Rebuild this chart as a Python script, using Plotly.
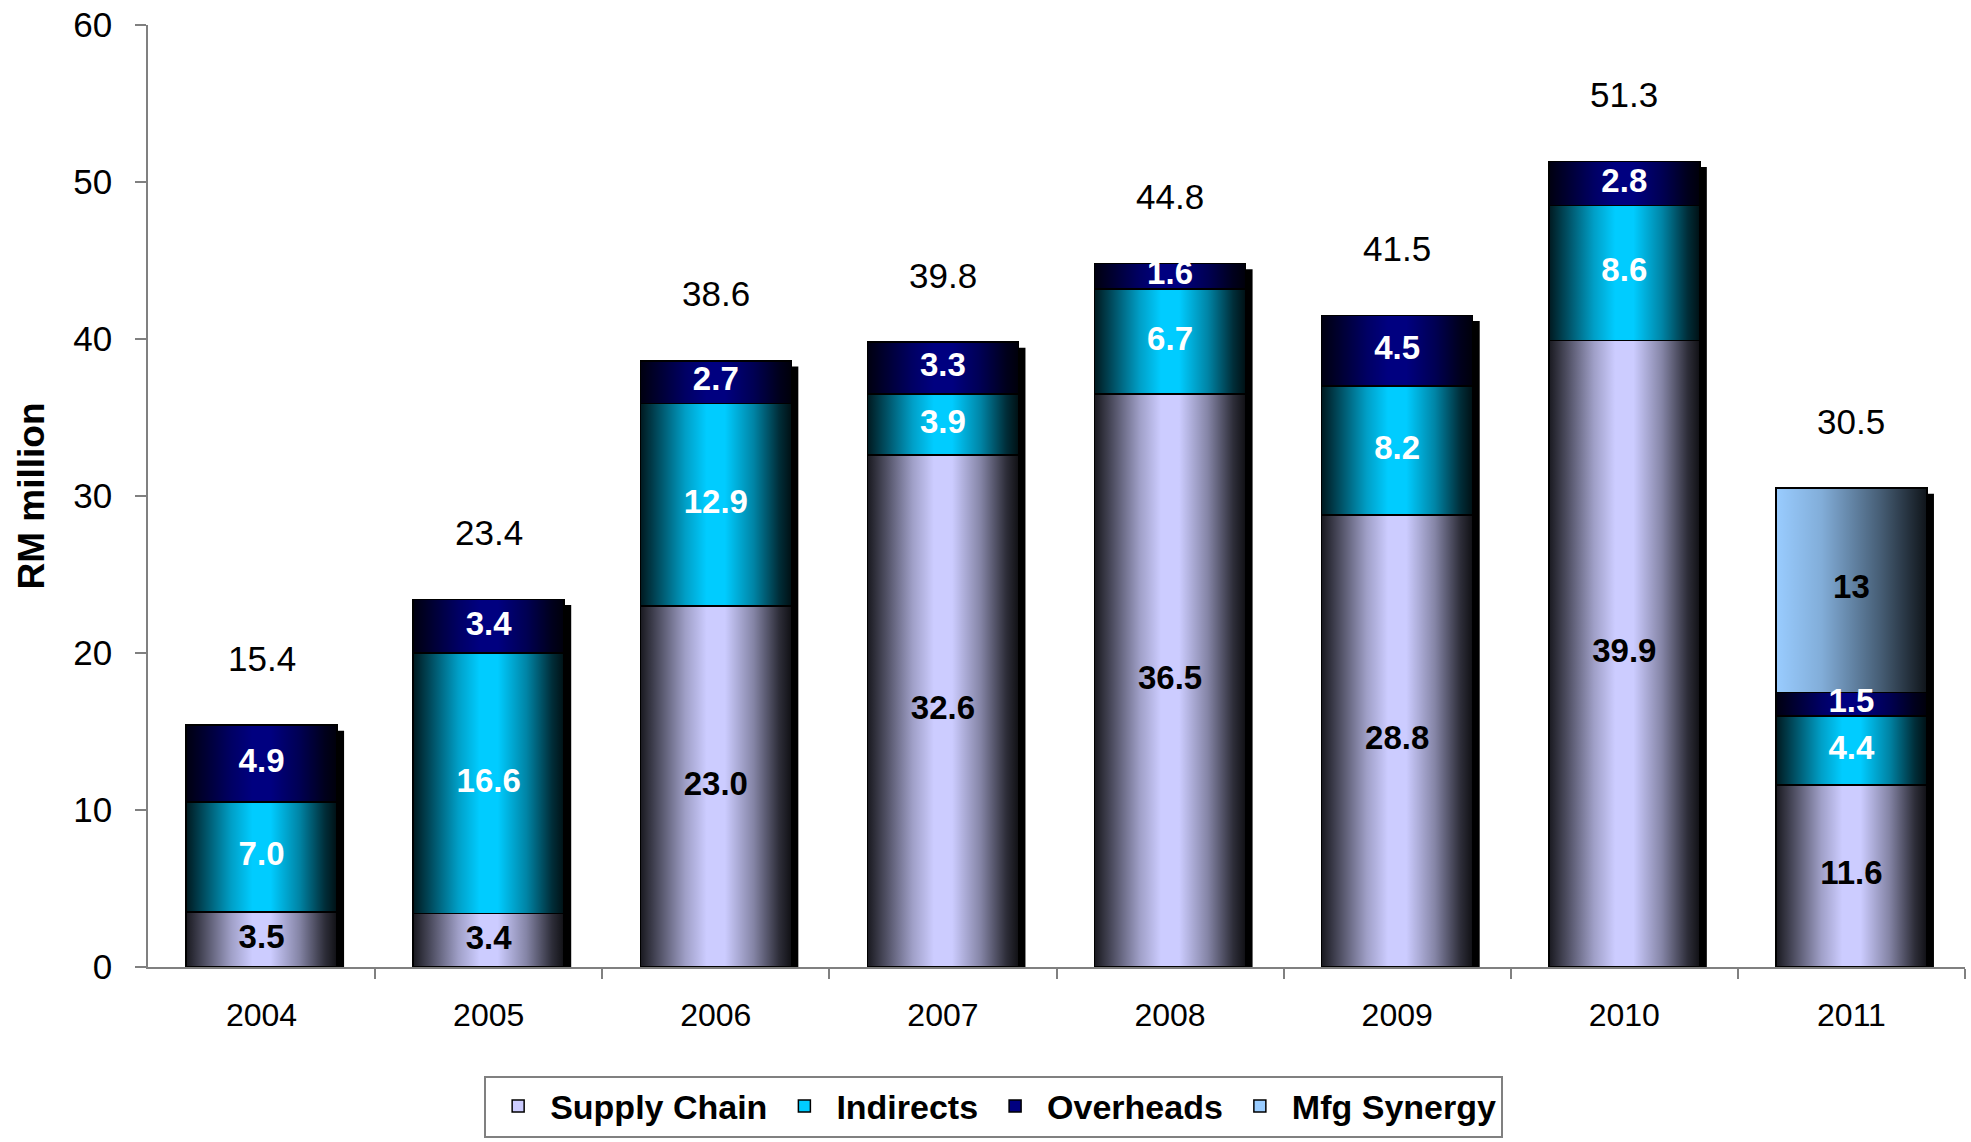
import plotly.graph_objects as go

# ---- data -------------------------------------------------------------
years = ["2004", "2005", "2006", "2007", "2008", "2009", "2010", "2011"]
supply_chain = [3.5, 3.4, 23.0, 32.6, 36.5, 28.8, 39.9, 11.6]
indirects = [7.0, 16.6, 12.9, 3.9, 6.7, 8.2, 8.6, 4.4]
overheads = [4.9, 3.4, 2.7, 3.3, 1.6, 4.5, 2.8, 1.5]
mfg_synergy = [None, None, None, None, None, None, None, 13]

series = [
    ("Supply Chain", supply_chain, "#CCCCFF", "black", "{:.1f}"),
    ("Indirects", indirects, "#00CCFF", "white", "{:.1f}"),
    ("Overheads", overheads, "#000080", "white", "{:.1f}"),
    ("Mfg Synergy", mfg_synergy, "#99CCFF", "black", "{:g}"),
]

FONT = "Liberation Sans, Arial, sans-serif"
BAR_W = 0.665
x = list(range(len(years)))
totals = [round(sum(v[i] or 0 for _, v, *_ in series), 1) for i in x]

# shading across each column: dark edges, bright middle
edge_shade = [
    [0.0, "rgba(0,0,0,0.88)"], [0.12, "rgba(0,0,0,0.62)"],
    [0.30, "rgba(0,0,0,0.22)"], [0.44, "rgba(0,0,0,0.0)"],
    [0.56, "rgba(0,0,0,0.0)"], [0.75, "rgba(0,0,0,0.35)"],
    [0.92, "rgba(0,0,0,0.78)"], [1.0, "rgba(0,0,0,0.92)"],
]
ramp_shade = [
    [0.0, "rgba(0,0,0,0.0)"], [0.3, "rgba(0,0,0,0.15)"],
    [0.7, "rgba(0,0,0,0.55)"], [1.0, "rgba(0,0,0,0.9)"],
]

fig = go.Figure()

# stacked columns
for name, vals, color, _, _ in series:
    fig.add_trace(go.Bar(
        x=x, y=[v if v is not None else 0 for v in vals], name=name,
        width=BAR_W,
        marker=dict(color=color, line=dict(color="black", width=1.5)),
        hoverinfo="skip",
    ))

# gradient shading over every segment
label_pts = []
for i in x:
    base = 0.0
    for name, vals, color, tcolor, fmt in series:
        v = vals[i]
        if not v:
            continue
        top = base + v
        xl, xr = i - BAR_W / 2, i + BAR_W / 2
        fig.add_trace(go.Scatter(
            x=[xl, xr, xr, xl, xl], y=[base, base, top, top, base],
            mode="lines", fill="toself", line=dict(width=0),
            fillgradient=dict(
                type="horizontal",
                colorscale=ramp_shade if name == "Mfg Synergy" else edge_shade,
            ),
            showlegend=False, hoverinfo="skip",
        ))
        label_pts.append((i, (base + top) / 2, fmt.format(v), tcolor))
        base = top

# drop shadow on the right of each column
for i, t in zip(x, totals):
    fig.add_shape(
        type="rect", layer="below",
        xref="x", yref="y", xsizemode="pixel", xanchor=i + BAR_W / 2,
        x0=-4, x1=7, y0=0, y1=t - 0.35,
        fillcolor="black", line=dict(width=0),
    )

# segment value labels
for tcolor in ("black", "white"):
    pts = [p for p in label_pts if p[3] == tcolor]
    fig.add_trace(go.Scatter(
        x=[p[0] for p in pts], y=[p[1] for p in pts], text=[p[2] for p in pts],
        mode="text", textposition="middle center",
        textfont=dict(family=FONT, size=33, color=tcolor, weight="bold"),
        showlegend=False, hoverinfo="skip",
    ))

# totals above each column
for i, t in zip(x, totals):
    fig.add_annotation(
        x=i, y=t, text=f"{t:.1f}", showarrow=False, yshift=67,
        font=dict(family=FONT, size=35, color="black"),
    )

fig.update_layout(
    width=1971, height=1142,
    margin=dict(l=148, r=6, t=25, b=174),
    barmode="stack",
    plot_bgcolor="white", paper_bgcolor="white",
    font=dict(family=FONT, color="black"),
    showlegend=True,
    legend=dict(
        orientation="h", traceorder="normal",
        x=0.185, xanchor="left", y=-0.114, yanchor="top",
        itemwidth=54,
        bordercolor="#808080", borderwidth=2, bgcolor="white",
        font=dict(family=FONT, size=34, color="black", weight="bold"),
        itemclick=False, itemdoubleclick=False,
    ),
    xaxis=dict(
        range=[-0.5, len(years) - 0.5],
        tickvals=x, ticktext=years, ticks="",
        tickfont=dict(family=FONT, size=32, color="black"),
        ticklabelstandoff=19,
        showline=True, linecolor="#808080", linewidth=1.5,
        showgrid=False, zeroline=False,
        minor=dict(tickvals=[i + 0.5 for i in x], ticks="outside",
                   ticklen=10, tickwidth=1.5, tickcolor="#808080"),
    ),
    yaxis=dict(
        range=[0, 60], tickvals=list(range(0, 61, 10)),
        ticks="outside", ticklen=11, tickwidth=1.5, tickcolor="#808080",
        tickfont=dict(family=FONT, size=35, color="black"),
        ticklabelstandoff=16,
        showline=True, linecolor="#808080", linewidth=1.5,
        showgrid=False, zeroline=False,
        title=dict(text="RM million", standoff=17,
                   font=dict(family=FONT, size=37, color="black", weight="bold")),
    ),
)

fig.write_html("out.html")
